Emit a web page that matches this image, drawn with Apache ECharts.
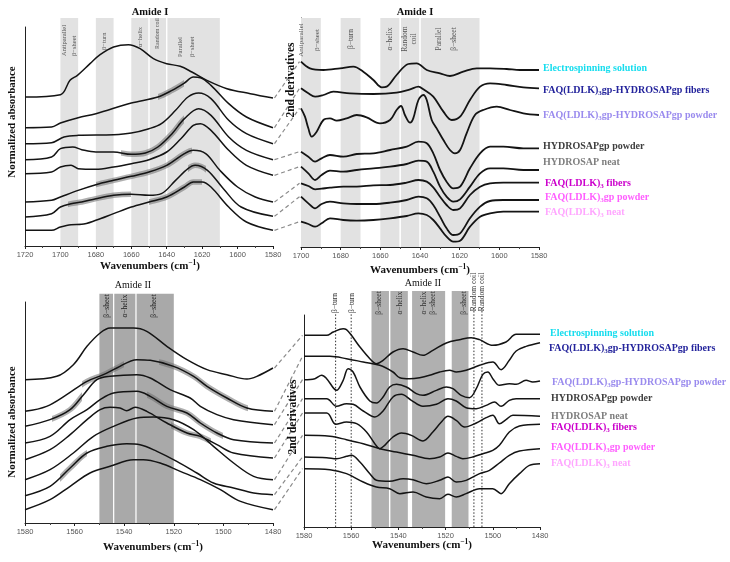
<!DOCTYPE html>
<html><head><meta charset="utf-8">
<script src="https://cdn.jsdelivr.net/npm/echarts@6/dist/echarts.min.js"></script>
<style>html,body{margin:0;padding:0;background:#fff}#c{width:730px;height:562px}</style>
</head><body><div id="c"></div>
<script>
// ---------------- DATA ----------------
const samples = ['Electrospinning solution','FAQ(LDLK)3gp-HYDROSAPgp fibers','FAQ(LDLK)3gp-HYDROSAPgp powder','HYDROSAPgp powder','HYDROSAP neat','FAQ(LDLK)3 fibers','FAQ(LDLK)3gp powder','FAQ(LDLK)3 neat'];
const ticksAmideI = [1580,1600,1620,1640,1660,1680,1700,1720];
const ticksAmideI_d2 = [1580,1600,1620,1640,1660,1680,1700];
const ticksAmideII = [1480,1500,1520,1540,1560,1580];

// Amide I normalized absorbance (wavenumber, offset absorbance a.u.)
const absAmideI = [
 [[1720,447],[1700,454],[1694.6,497],[1690.4,512],[1683.3,547],[1677.6,574],[1670,597],[1661.6,604],[1655,592],[1647.5,562],[1640,547],[1632.4,539],[1625.8,522],[1617.3,497],[1606,472],[1592.8,457],[1580,444]],
 [[1720,355],[1705,357],[1700,369],[1690,385],[1680,397],[1660,429],[1645,447],[1637,467],[1630,489],[1625,507],[1621,505],[1615,482],[1605,427],[1595,387],[1580,355]],
 [[1720,307],[1705,310],[1698,327],[1690,332],[1670,334],[1660,339],[1650,352],[1643,367],[1635,407],[1628,447],[1622,459],[1615,442],[1605,377],[1595,337],[1580,307]],
 [[1720,259],[1705,267],[1700,292],[1693,297],[1688,289],[1680,282],[1670,282],[1660,275],[1652,279],[1645,297],[1637,337],[1630,382],[1622,412],[1615,392],[1605,327],[1595,287],[1580,259]],
 [[1720,217],[1705,222],[1700,237],[1694,242],[1690,232],[1680,230],[1670,237],[1660,247],[1650,259],[1640,282],[1632,322],[1625,362],[1621,367],[1615,347],[1605,287],[1595,242],[1580,212]],
 [[1720,132],[1705,137],[1700,147],[1690,167],[1680,184],[1670,197],[1660,209],[1650,222],[1640,242],[1630,277],[1625,287],[1618,277],[1610,227],[1600,177],[1590,147],[1580,132]],
 [[1720,87],[1705,97],[1700,117],[1694,127],[1688,132],[1680,142],[1670,152],[1660,155],[1650,152],[1643,157],[1635,197],[1628,232],[1624,242],[1617,227],[1608,172],[1598,117],[1580,89]],
 [[1720,47],[1705,47],[1700,57],[1694,64],[1688,65],[1680,77],[1670,97],[1660,117],[1650,132],[1640,147],[1630,177],[1625,192],[1620,192],[1615,177],[1605,117],[1595,72],[1580,47]]
];

// Amide I second derivatives
const d2AmideI_wn = [
 [1700,1695.5,1688.7,1680.3,1673.6,1668.6,1663.5,1659.3,1656.8,1651.8,1645.9,1641.7,1636.6,1629.9,1624.9,1618.2,1611.4,1604.7,1596.3,1589.6,1580],
 [1700,1696.3,1692.9,1688.7,1683.7,1675.3,1663.5,1651.8,1645,1640.8,1638.3,1633.3,1628.2,1624,1619.8,1614.8,1609.7,1604.7,1596.3,1587.9,1580],
 [1700,1698,1696.3,1694.6,1692.1,1688.7,1685.4,1682,1677,1671.9,1666.9,1660.2,1655.1,1651.8,1649.6,1647.6,1645,1643.4,1640.8,1638.3,1636.6,1634.1,1631.6,1628.2,1624.9,1622.4,1619.8,1616.5,1612.3,1608.1,1601.3,1594.6,1587.9,1580],
 [1700,1696.3,1692.9,1689.6,1685.4,1678.7,1671.9,1663.5,1655.1,1646.7,1640.8,1636.6,1633.3,1629.9,1626.6,1623.2,1619.8,1614.8,1609.7,1604.7,1598,1587.9,1580],
 [1700,1696.3,1692.9,1689.6,1685.4,1678.7,1671.9,1663.5,1655.1,1646.7,1640.8,1636.6,1633.3,1629.9,1626.6,1623.2,1619.8,1614.8,1609.7,1604.7,1598,1587.9,1580],
 [1700,1696.3,1692.9,1689.6,1685.4,1678.7,1671.9,1663.5,1655.1,1646.7,1640.8,1636.6,1633.3,1629.9,1626.6,1623.2,1619.8,1614.8,1609.7,1604.7,1598,1587.9,1580],
 [1700,1696.3,1692.9,1689.6,1685.4,1678.7,1671.9,1663.5,1655.1,1646.7,1640.8,1636.6,1633.3,1629.9,1626.6,1623.2,1619.8,1614.8,1609.7,1604.7,1598,1587.9,1580],
 [1700,1696.3,1692.9,1689.6,1685.4,1678.7,1671.9,1663.5,1655.1,1646.7,1640.8,1636.6,1633.3,1629.9,1626.6,1623.2,1619.8,1614.8,1609.7,1604.7,1598,1587.9,1580]
];
const d2AmideI_val = [
 [556,536,531,536,541,526,501,479,481,516,549,551,531,521,513,526,536,536,534,531,531],
 [476,461,451,456,466,461,459,463,473,481,473,451,406,381,391,441,481,491,486,479,476],
 [416,391,356,331,346,381,386,379,386,396,389,371,381,411,423,396,373,386,441,456,441,381,356,321,291,281,291,341,396,411,421,411,401,396],
 [286,271,256,266,276,271,279,281,291,301,316,311,281,231,196,176,181,236,281,301,301,296,296],
 [241,221,201,216,229,226,231,236,241,249,259,256,226,181,151,136,143,181,221,236,236,231,231],
 [191,183,173,175,178,181,181,185,186,193,201,196,179,151,126,111,116,156,181,191,193,193,193],
 [151,131,116,129,136,131,129,129,133,141,151,146,126,91,56,36,41,86,121,138,141,141,141],
 [76,69,61,71,86,81,79,81,86,93,101,96,81,56,31,16,19,61,91,101,106,106,106]
];

// Amide II normalized absorbance
const absAmideII = [
 [[1580,430],[1567.2,440],[1560.5,475],[1555,530],[1549.7,570],[1545.7,585],[1536.3,585],[1530.9,575],[1522.8,530],[1514.7,490],[1506.6,460],[1498.6,445],[1490.5,432],[1486.5,440],[1480,465]],
 [[1580,335],[1571.3,350],[1563.2,385],[1555,425],[1548.4,445],[1543,465],[1534.9,490],[1529.5,488],[1520.1,470],[1512,440],[1506.6,410],[1498.6,375],[1490.5,345],[1480,335]],
 [[1580,290],[1569.9,310],[1561.8,340],[1556.4,385],[1551,430],[1545.7,440],[1534.9,445],[1529.5,435],[1521.5,400],[1513.4,375],[1509.3,350],[1502.6,325],[1495.9,310],[1480,295]],
 [[1580,240],[1569.9,260],[1561.8,310],[1555,340],[1549.7,370],[1544.3,390],[1534.9,395],[1529.5,380],[1522.8,350],[1514.7,330],[1509.3,300],[1502.6,270],[1495.9,250],[1480,240]],
 [[1580,190],[1569.9,220],[1561.8,265],[1555,310],[1549.7,340],[1545.7,347],[1541.7,345],[1539,337],[1535.6,347],[1530.9,335],[1522.8,300],[1514.7,270],[1509.3,260],[1502.6,235],[1495.9,210],[1480,195]],
 [[1580,130],[1569.9,160],[1560.5,210],[1552.4,260],[1544.3,290],[1534.9,315],[1528.2,318],[1520.1,310],[1512,280],[1504,230],[1495.9,180],[1487.8,140],[1480,130]],
 [[1580,82],[1569.9,110],[1561.8,165],[1555,210],[1547,230],[1539,238],[1533.6,235],[1526.8,215],[1518.8,185],[1510.7,150],[1504,120],[1495.9,105],[1487.8,90],[1480,85]],
 [[1580,40],[1569.9,70],[1561.8,110],[1553.8,150],[1545.7,170],[1536.3,190],[1532.3,190],[1525.5,180],[1517.4,155],[1509.3,130],[1501.2,100],[1493.1,65],[1480,40]]
];

// Amide II second derivatives
const d2AmideII_wn = [
 [1580,1570.4,1567.6,1563.4,1562,1559.9,1556.3,1552.1,1549.3,1546.5,1542.3,1538,1533.8,1529.6,1525.4,1519.7,1514.1,1509.2,1505.6,1500,1494.4,1490.1,1480],
 [1580,1569,1562,1554.9,1547.9,1542.3,1539.4,1535.2,1531,1526.8,1522.5,1518.3,1515.5,1511.3,1505.6,1500,1496.5,1493,1490.1,1485.9,1480],
 [1580,1575.4,1572.5,1570.4,1566.2,1563.4,1561.3,1559.2,1556.3,1552.1,1549.3,1546.5,1543.7,1540.8,1536.6,1532.4,1529.6,1523.9,1519.7,1516.9,1513.4,1509.9,1507,1504.2,1502.1,1500,1497.2,1493,1490.1,1485.9,1483.1,1480],
 [1580,1570.4,1566.2,1562,1559.2,1554.9,1550,1546.5,1542.3,1538.7,1534.5,1529.6,1523.9,1519,1515.5,1511.3,1507,1502.8,1499.3,1496.5,1493,1490.1,1480],
 [1580,1570.4,1566.5,1562,1557.7,1553.5,1550,1547.9,1545.8,1542.3,1538.7,1534.5,1529.6,1525.4,1521.8,1519,1515.5,1512,1507,1502.8,1500,1497.2,1494.4,1491.5,1480],
 [1580,1569,1562,1554.9,1547.9,1540.8,1533.8,1526.8,1522.5,1519,1515.5,1512.7,1508.5,1504.2,1500,1497.2,1493,1488.7,1480],
 [1580,1570.4,1566.2,1562,1559.9,1556.3,1552.1,1549.3,1543.7,1538,1533.8,1528.2,1522.5,1519,1515.5,1511.3,1505.6,1501.4,1497.2,1493,1488.7,1480],
 [1580,1569,1562,1554.9,1549.3,1543.7,1539.4,1533.8,1528.2,1522.5,1519,1515.5,1511.3,1505.6,1500,1496.5,1493,1488.7,1484.5,1480]
];
const d2AmideII_val = [
 [575,575,585,595,592,575,540,505,490,500,525,535,525,515,530,552,562,568,562,545,555,578,578],
 [512,512,505,495,485,465,448,445,448,455,465,470,465,470,485,495,472,500,528,542,553],
 [442,445,455,445,410,440,475,465,420,378,372,390,420,428,420,400,395,410,420,415,395,388,415,458,465,445,425,430,428,440,435,438],
 [385,385,362,370,368,348,330,348,390,398,380,362,368,385,378,358,355,365,375,362,380,385,385],
 [342,342,308,315,310,285,250,235,245,270,282,275,258,285,315,332,320,300,312,328,335,310,322,335,332],
 [275,272,262,250,235,225,215,205,210,222,212,205,210,220,230,245,285,303,308],
 [210,208,205,212,215,195,160,140,137,145,142,130,140,150,135,140,160,170,192,215,228,235],
 [175,172,160,135,120,115,100,105,90,85,98,90,100,115,115,100,130,160,185,190]
];

// spectral-assignment regions (wavenumber ranges)
const bandsAmideI = [[1700,1690],[1680,1670],[1660,1650.4],[1649.6,1640.4],[1639.6,1610]];
const bandsAmideII_abs = [[1550,1544.5],[1544,1535.5],[1535,1520]];
const bandsAmideII_d2 = [[1551.4,1544],[1543.4,1536],[1534.2,1520.2],[1517.4,1510.3]];
const linesAmideII_d2 = [1566.6,1560,1508,1504.6];
const labelsAbsI = [['Antiparallel\nβ−sheet',1695],['β−turn',1675],['α−helix',1655],['Random coil',1645],['Parallel\nβ−sheet',1629]];
const labelsD2I = [['Antiparallel\nβ−sheet',1696],['β−turn',1675],['α−helix',1655],['Random\ncoil',1645.2],['Parallel\nβ−sheet',1626.6]];
const labelsAbsII = [['β−sheet',1547],['α−helix',1539.6],['β−sheet',1527.9]];
const labelsD2II = [['β−turn',1566.7],['β−turn',1559.8],['β−sheet',1548.4],['α−helix',1539.2],['α−helix\nβ−sheet',1527.3],['β−sheet',1512.2],['Random coil',1507.9],['Random coil',1504.4]];
// spread (shaded) segments of averaged spectra: [curve index, from, to]
const shadeAbsI = [[1,1645,1630],[3,1666,1630],[5,1680,1626],[6,1696,1660],[6,1628,1618],[7,1650,1620]];
const shadeAbsII = [[1,1557,1540],[1,1526,1490],[2,1569,1557],[3,1531,1500],[4,1521,1505],[6,1566,1555]];

// ---------------- STYLE / LAYOUT ----------------
const SERIF = '"Liberation Serif","Times New Roman",serif';
const SANS = '"Liberation Sans",Arial,sans-serif';
const sampleColors = ['#16DDEE','#24249C','#9A8BEE','#3E3E3E','#7E7E7E','#CC00CC','#FF5EFF','#FFA6FF'];
const SHADE = 'rgba(110,110,110,0.55)';
const zip = (w, v) => w.map((x, i) => [x, v[i]]);
const panels = [
  {data: absAmideI, grid:{left:25, top:27, width:248, height:219}, min:ticksAmideI[0], max:ticksAmideI[ticksAmideI.length-1], ymax:657, lw:1.5},
  {data: d2AmideI_wn.map((w,i)=>zip(w,d2AmideI_val[i])), grid:{left:301, top:18, width:238, height:229}, min:ticksAmideI_d2[0], max:ticksAmideI_d2[ticksAmideI_d2.length-1], ymax:687, lw:1.8},
  {data: absAmideII, grid:{left:25, top:302, width:248, height:221}, min:ticksAmideII[0], max:ticksAmideII[ticksAmideII.length-1], ymax:663, lw:1.5},
  {data: d2AmideII_wn.map((w,i)=>zip(w,d2AmideII_val[i])), grid:{left:304, top:315, width:236, height:212}, min:ticksAmideII[0], max:ticksAmideII[ticksAmideII.length-1], ymax:636, lw:1.5}
];

const grid = panels.map(p => Object.assign({outerBoundsMode:'none', containLabel:false}, p.grid));
const xAxis = panels.map((p, i) => ({
  gridIndex:i, type:'value', inverse:true, min:p.min, max:p.max, interval:20,
  axisLine:{show:true, onZero:false, lineStyle:{color:'#222', width:1}},
  axisTick:{show:true, length:3, lineStyle:{color:'#222'}},
  minorTick:{show:true, splitNumber:2, length:2, lineStyle:{color:'#444'}},
  axisLabel:{fontSize:7.5, color:'#555', fontFamily:SANS, margin:5, formatter:v => String(v)},
  splitLine:{show:false}, minorSplitLine:{show:false}
}));
const yAxis = panels.map((p, i) => ({
  gridIndex:i, type:'value', min:0, max:p.ymax,
  axisLine:{show:true, onZero:false, lineStyle:{color:'#222', width:1}},
  axisTick:{show:false}, axisLabel:{show:false}, splitLine:{show:false}
}));

const series = [];
const visualMap = [];
function bandSeries(pi, bands, top, color) {
  series.push({
    type:'custom', xAxisIndex:pi, yAxisIndex:pi, clip:false, silent:true, z:1,
    data: bands.map(b => [b[0], b[1], top]),
    encode:{x:[0,1], y:[2]},
    renderItem:(params, api) => {
      const a = api.coord([api.value(0), 0]);
      const b = api.coord([api.value(1), api.value(2)]);
      return {type:'rect', shape:{x:Math.min(a[0],b[0]), y:b[1], width:Math.abs(b[0]-a[0]), height:a[1]-b[1]}, style:{fill:color}};
    }
  });
}
bandSeries(0, bandsAmideI, 684, '#E2E2E2');
bandSeries(1, bandsAmideI, 687, '#E2E2E2');
bandSeries(2, bandsAmideII_abs, 688, '#A9A9A9');
bandSeries(3, bandsAmideII_d2, 708, '#B0B0B0');
series.push({
  type:'custom', xAxisIndex:3, yAxisIndex:3, clip:false, silent:true, z:1,
  data: linesAmideII_d2.map((x, i) => [x, i < 2 ? 638 : 662]),
  encode:{x:[0], y:[1]},
  renderItem:(params, api) => {
    const a = api.coord([api.value(0), 0]);
    const b = api.coord([api.value(0), api.value(1)]);
    return {type:'line', shape:{x1:a[0], y1:a[1], x2:b[0], y2:b[1]}, style:{stroke:'#333', lineWidth:1, lineDash:[1.5,1.8]}};
  }
});
// shaded spread segments (colour along x given by a hidden piecewise visualMap)
function shadeSeries(pi, shades) {
  const byCurve = {};
  shades.forEach(s => { (byCurve[s[0]] = byCurve[s[0]] || []).push([s[1], s[2]]); });
  Object.keys(byCurve).forEach(k => {
    const idx = series.length;
    series.push({type:'line', xAxisIndex:pi, yAxisIndex:pi, data:panels[pi].data[+k], smooth:0.35, symbol:'none', silent:true, z:2,
      lineStyle:{width:5.5}});
    visualMap.push({show:false, type:'piecewise', seriesIndex:idx, dimension:0,
      pieces: byCurve[k].map(r => ({min:Math.min(r[0],r[1]), max:Math.max(r[0],r[1]), color:SHADE})),
      outOfRange:{color:'rgba(255,255,255,0)'}});
  });
}
shadeSeries(0, shadeAbsI);
shadeSeries(2, shadeAbsII);
panels.forEach((p, pi) => {
  p.data.forEach((d, ci) => {
    series.push({type:'line', name:samples[ci], xAxisIndex:pi, yAxisIndex:pi, data:d, smooth:0.35, symbol:'none', silent:true, z:3,
      lineStyle:{color:'#141414', width:p.lw}});
  });
});

const chart = echarts.init(document.getElementById('c'));
chart.setOption({animation:false, backgroundColor:'#fff', grid, xAxis, yAxis, series, visualMap});

// ---------------- TEXT & CONNECTORS ----------------
const g = [];
const px = (pi, pt) => chart.convertToPixel({xAxisIndex:pi, yAxisIndex:pi}, pt);
function txt(x, y, text, o) {
  o = o || {};
  g.push({type:'text', x, y, rotation:o.rot || 0, z:10, silent:true,
    style:Object.assign({text, fill:o.color || '#111', fontSize:o.size || 10, fontFamily:o.family || SERIF, fontWeight:o.weight || 'normal',
      align:o.align || 'center', verticalAlign:o.valign || 'middle', lineHeight:o.lh || undefined}, o.rich ? {rich:o.rich} : {})});
}
// connectors
[[0,1],[2,3]].forEach(([a, b]) => {
  for (let i = 0; i < 8; i++) {
    const la = panels[a].data[i], rb = panels[b].data[i];
    const p1 = px(a, la[la.length-1]);
    const p2 = px(b, rb[0]);
    g.push({type:'line', z:0, silent:true, shape:{x1:p1[0]+1.5, y1:p1[1], x2:p2[0]-1.5, y2:p2[1]},
      style:{stroke:'#8a8a8a', lineWidth:1.2, lineDash:[4,3]}});
  }
});
// titles
txt(150, 12, 'Amide I', {size:10.5, weight:'bold'});
txt(415, 12, 'Amide I', {size:10.5, weight:'bold'});
txt(133, 285, 'Amide II', {size:10});
txt(423, 283, 'Amide II', {size:10});
const supRich = {p:{fontSize:7.5, fontWeight:'bold', fontFamily:SERIF, fill:'#111', verticalAlign:'top', lineHeight:8}};
[[150,266],[420,270],[153,547],[422,545]].forEach(c => txt(c[0], c[1], 'Wavenumbers (cm{p|−1})', {size:11, weight:'bold', lh:13, rich:supRich}));
txt(12, 122, 'Normalized absorbance', {size:11, weight:'bold', rot:Math.PI/2});
txt(12, 422, 'Normalized absorbance', {size:11, weight:'bold', rot:Math.PI/2});
txt(291.5, 80, '2nd derivatives', {size:11.5, weight:'bold', rot:Math.PI/2});
txt(293, 417, '2nd derivatives', {size:11.5, weight:'bold', rot:Math.PI/2});
// band labels
const tlBottom = [56, 50, 47, 49, 57], tlLh = [10, 0, 0, 0, 11.7], tlSize = [6.5, 6.5, 6.5, 6, 6.5];
labelsAbsI.forEach((l, i) => txt(px(0, [l[1], 0])[0], tlBottom[i], l[0], {size:tlSize[i], color:'#555', rot:Math.PI/2, align:'left', lh:tlLh[i] || undefined}));
const trLh = [15.5, 0, 0, 9.5, 14.4];
labelsD2I.forEach((l, i) => txt(px(1, [l[1], 0])[0], i === 0 ? 40 : 39, l[0], {size:i === 0 ? 7 : 7.5, color:'#555', rot:Math.PI/2, lh:trLh[i] || undefined}));
labelsAbsII.forEach(l => txt(px(2, [l[1], 0])[0], 306, l[0], {size:7.5, color:'#222', rot:Math.PI/2}));
labelsD2II.forEach((l, i) => txt(px(3, [l[1], 0])[0], i >= 6 ? 292 : 303, l[0], {size:7.5, color:'#333', rot:Math.PI/2, lh: i === 4 ? 8.5 : undefined}));
// sample labels
const topPos = [[543,68],[543,90],[543,115],[543,146],[543,162],[545,183],[545,197],[545,212]];
const botPos = [[550,333],[549,348],[552,382],[551,398],[551,416],[551,427],[551,447],[551,463]];
function sampleLabel(pos, i) {
  const t = samples[i].replace('(LDLK)3', '(LDLK){s|3}');
  txt(pos[0], pos[1], t, {size:10, weight:'bold', color:sampleColors[i], align:'left', lh:14,
    rich:{s:{fontSize:7, fontWeight:'bold', fontFamily:SERIF, fill:sampleColors[i], verticalAlign:'bottom', lineHeight:6}}});
}
topPos.forEach((p, i) => sampleLabel(p, i));
botPos.forEach((p, i) => sampleLabel(p, i));

chart.setOption({graphic:g});
</script>
</body></html>
